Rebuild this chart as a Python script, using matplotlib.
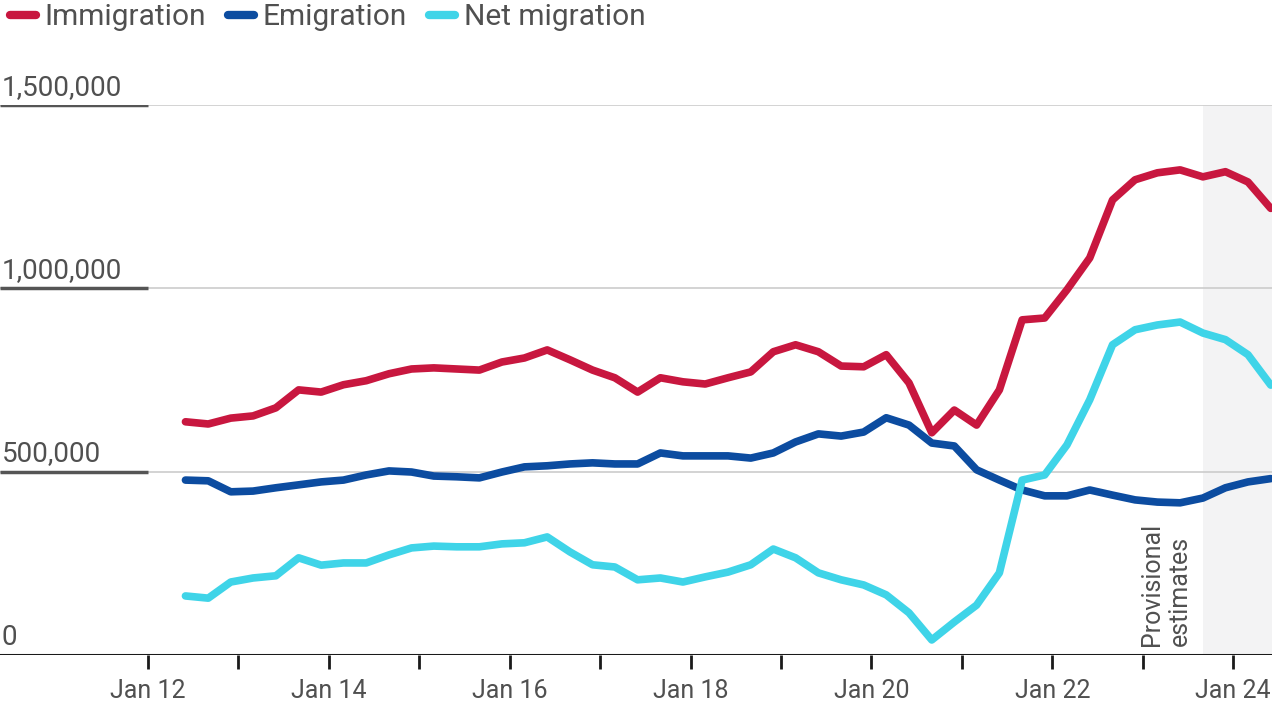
#!/usr/bin/env python

import numpy as np
import pandas as pd
import matplotlib
matplotlib.use("Agg")
import matplotlib.pyplot as plt
import matplotlib.dates as mdates

matplotlib.rcParams['font.family'] = ['Roboto', 'DejaVu Sans']

# quarterly points, year ending Jun 2012 .. Jun 2024
dates = pd.date_range("2012-06-01", "2024-06-01", freq="3MS")

immigration = [636, 630, 646, 652, 674, 723, 717, 737, 748, 767, 780, 783, 780,
               777, 799, 810, 832, 805, 777, 756, 717, 756, 745, 739, 756,
               772, 827, 846, 827, 788, 786, 819, 742, 606, 668, 627, 723,
               914, 919, 996, 1083, 1241, 1296, 1315, 1323, 1304, 1318, 1290, 1218]
emigration = [477, 475, 445, 447, 456, 464, 472, 477, 491, 502, 499, 488, 486,
              483, 499, 513, 516, 521, 524, 521, 521, 551, 543, 543, 543,
              537, 551, 581, 603, 597, 608, 647, 627, 578, 570, 505, 477,
              450, 434, 434, 450, 436, 423, 417, 415, 428, 456, 472, 481]
net_migration = [161, 155, 199, 210, 216, 265, 245, 251, 251, 273, 292, 297, 295,
                 295, 303, 306, 322, 281, 246, 240, 205, 210, 199, 213, 226,
                 246, 289, 265, 224, 205, 191, 164, 115, 41, 90, 136, 224,
                 477, 491, 573, 696, 846, 887, 900, 908, 878, 860, 819, 736]

series = [("Immigration", immigration, '#c8173f'),
          ("Emigration", emigration, '#0c4ca0'),
          ("Net migration", net_migration, '#3fd4e8')]

yticks = [0, 500000, 1000000, 1500000]
ytick_labels = ["0", "500,000", "1,000,000", "1,500,000"]
xtick_years = list(range(2012, 2025))

text_col = '#505050'

fig = plt.figure(figsize=(12.8, 7.2), dpi=100)
ax = fig.add_axes([0.0, 0.0903, 1272/1280, 0.7639])

x_left = pd.Timestamp("2010-05-14")
x_right = pd.Timestamp("2024-06-06")
x_label_end = pd.Timestamp("2012-01-01")

# provisional shading
ax.axvspan(pd.Timestamp("2023-09-01"), x_right, color='#f3f3f4', zorder=0, lw=0)

# gridlines with darker bit under the labels
for yv, lab in zip(yticks, ytick_labels):
    if yv == 0:
        ax.axhline(0, color='#1a1a1a', lw=2.2, zorder=3)
    else:
        ax.axhline(yv, color='#cccccc', lw=1.2, zorder=1)
        ax.plot([x_left, x_label_end], [yv, yv], color='#555555', lw=2.5,
                zorder=2, solid_capstyle='butt')
    ax.text(x_left + pd.Timedelta(days=8), yv + 12000, lab, fontsize=20,
            color=text_col, ha='left', va='bottom')

for name, vals, col in series:
    ax.plot(dates, np.array(vals) * 1000, color=col, lw=5.5, label=name,
            solid_capstyle='round', solid_joinstyle='round', zorder=4)

ax.text(pd.Timestamp("2023-07-20"), 25000, "Provisional\nestimates", rotation=90,
        fontsize=18, color=text_col, ha='right', va='bottom', multialignment='left')

ax.set_xlim(x_left, x_right)
ax.set_ylim(0, 1500000)

ax.set_xticks([pd.Timestamp(f"{y}-01-01") for y in xtick_years])
ax.set_xticklabels([f"Jan {y % 100}" if y % 2 == 0 else "" for y in xtick_years])
ax.tick_params(axis='x', length=10, width=2, color='#1a1a1a', labelsize=18,
               labelcolor=text_col, pad=7)
ax.set_yticks([])
for s in ax.spines.values():
    s.set_visible(False)

leg = fig.legend(loc='upper left', bbox_to_anchor=(-0.013, 1.033), ncol=3,
                 frameon=False, fontsize=21.5, handlelength=0.85, handletextpad=0.3,
                 columnspacing=0.75, labelcolor=text_col)
for h in leg.legend_handles:
    h.set_linewidth(6)
    h.set_solid_capstyle('round')

plt.savefig('out.png', dpi=100)
